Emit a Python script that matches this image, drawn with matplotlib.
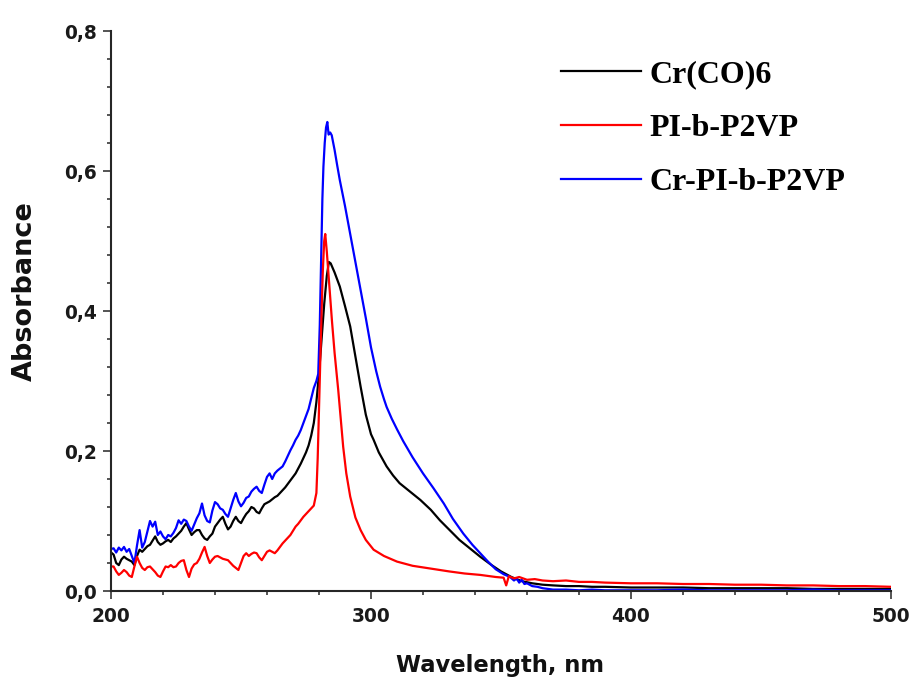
import matplotlib
matplotlib.use("Agg")
import matplotlib.pyplot as plt
from matplotlib.ticker import MultipleLocator, FixedLocator, FixedFormatter

# --- UV-Vis absorbance spectra ------------------------------------------
# noisy short-wavelength scan region, 1 nm steps
scan_nm = list(range(200, 279))

cr_co6_scan = [
    0.055, 0.052, 0.040, 0.037, 0.045, 0.049, 0.046, 0.044, 0.042, 0.037,
    0.050, 0.059, 0.056, 0.060, 0.064, 0.066, 0.072, 0.078, 0.070, 0.066,
    0.068, 0.071, 0.073, 0.070, 0.075, 0.078, 0.082, 0.086, 0.092, 0.097,
    0.088, 0.080, 0.084, 0.087, 0.087, 0.080, 0.075, 0.073, 0.078, 0.082,
    0.092, 0.097, 0.102, 0.106, 0.096, 0.088, 0.092, 0.100, 0.106, 0.100,
    0.097, 0.104, 0.110, 0.114, 0.120, 0.118, 0.113, 0.111, 0.118, 0.124,
    0.126, 0.128, 0.131, 0.134, 0.136, 0.140, 0.144, 0.148, 0.153, 0.158,
    0.163, 0.168, 0.175, 0.182, 0.190, 0.198, 0.208, 0.222, 0.240,
]
pib_scan = [
    0.035, 0.035, 0.028, 0.023, 0.026, 0.030, 0.027, 0.022, 0.020, 0.035,
    0.049, 0.040, 0.033, 0.030, 0.034, 0.035, 0.031, 0.027, 0.022, 0.020,
    0.028, 0.035, 0.034, 0.037, 0.034, 0.035, 0.040, 0.043, 0.044, 0.030,
    0.020, 0.032, 0.038, 0.040, 0.046, 0.055, 0.063, 0.050, 0.040, 0.045,
    0.049, 0.050, 0.048, 0.046, 0.045, 0.044, 0.040, 0.036, 0.033, 0.030,
    0.040, 0.050, 0.054, 0.050, 0.053, 0.055, 0.054, 0.048, 0.044, 0.050,
    0.056, 0.058, 0.056, 0.054, 0.058, 0.063, 0.068, 0.072, 0.076, 0.080,
    0.086, 0.092, 0.096, 0.101, 0.106, 0.110, 0.114, 0.118, 0.122,
]
cr_pib_scan = [
    0.060, 0.061, 0.055, 0.062, 0.058, 0.063, 0.056, 0.060, 0.050, 0.040,
    0.065, 0.087, 0.062, 0.070, 0.085, 0.100, 0.092, 0.099, 0.080, 0.085,
    0.078, 0.074, 0.080, 0.078, 0.083, 0.090, 0.101, 0.096, 0.102, 0.100,
    0.092, 0.086, 0.095, 0.104, 0.111, 0.125, 0.108, 0.100, 0.098, 0.115,
    0.127, 0.124, 0.118, 0.116, 0.110, 0.106, 0.118, 0.130, 0.140, 0.128,
    0.121, 0.126, 0.133, 0.135, 0.142, 0.146, 0.149, 0.143, 0.140, 0.152,
    0.163, 0.168, 0.160, 0.168, 0.172, 0.175, 0.178, 0.185, 0.193, 0.201,
    0.208, 0.216, 0.222, 0.230, 0.240, 0.250, 0.260, 0.275, 0.290,
]

# band and long-wavelength tail
cr_co6_nm = [
    279, 280, 281, 282, 283, 283.8, 284.5, 286, 288, 290,
    292, 294, 296, 298, 300, 301, 303, 306, 308.5, 311,
    315, 319, 323, 326.5, 330, 334, 338, 342, 346, 350,
    354, 358, 362, 366, 370, 375, 380, 385, 390, 400,
    410, 420, 430, 440, 450, 460, 470, 480, 490, 500,
]
cr_co6_abs = [
    0.270, 0.310, 0.360, 0.410, 0.450, 0.470, 0.468, 0.455, 0.435, 0.407,
    0.378, 0.335, 0.292, 0.252, 0.224, 0.216, 0.198, 0.178, 0.165, 0.154,
    0.142, 0.130, 0.116, 0.101, 0.088, 0.073, 0.061, 0.049, 0.038, 0.028,
    0.020, 0.014, 0.011, 0.009, 0.008, 0.007, 0.007, 0.006, 0.006, 0.005,
    0.005, 0.005, 0.004, 0.004, 0.004, 0.004, 0.003, 0.003, 0.003, 0.003,
]

pib_nm = [
    279, 279.5, 280, 280.5, 281, 281.5, 282, 282.4, 283, 284,
    285, 286, 287.4, 288.5, 289.3, 290.5, 292, 294, 296, 298,
    301, 305, 310, 316, 323, 330, 336, 342, 348, 351,
    352, 353, 355, 357, 360, 363, 366, 370, 375, 380,
    385, 390, 400, 410, 420, 430, 440, 450, 460, 470,
    480, 490, 500,
]
pib_abs = [
    0.140, 0.190, 0.260, 0.330, 0.400, 0.460, 0.500, 0.510, 0.485, 0.435,
    0.385, 0.340, 0.287, 0.240, 0.206, 0.168, 0.135, 0.105, 0.087, 0.073,
    0.059, 0.050, 0.042, 0.036, 0.032, 0.028, 0.025, 0.023, 0.020, 0.019,
    0.008, 0.021, 0.018, 0.020, 0.016, 0.017, 0.015, 0.014, 0.015, 0.013,
    0.013, 0.012, 0.011, 0.011, 0.010, 0.010, 0.009, 0.009, 0.008, 0.008,
    0.007, 0.007, 0.006,
]

cr_pib_nm = [
    279, 279.7, 280.3, 280.8, 281.3, 281.7, 282.2, 282.7, 283.2, 283.7,
    284.3, 284.9, 286, 287, 288, 290, 292, 294, 296, 298,
    300, 302, 303.5, 305, 306, 308, 310, 312.4, 316, 320,
    324, 328, 331.5, 335.5, 339, 342, 345, 348, 351, 353.5,
    355, 356, 357, 358, 359, 360, 362, 364, 366, 368,
    370, 375, 380, 385, 390, 400, 410, 420, 430, 440,
    450, 460, 470, 480, 490, 500,
]
cr_pib_abs = [
    0.300, 0.310, 0.380, 0.470, 0.560, 0.606, 0.640, 0.662, 0.670, 0.652,
    0.655, 0.651, 0.630, 0.608, 0.587, 0.550, 0.510, 0.470, 0.430, 0.390,
    0.348, 0.314, 0.292, 0.274, 0.263, 0.246, 0.231, 0.214, 0.191, 0.168,
    0.147, 0.125, 0.103, 0.082, 0.066, 0.054, 0.042, 0.031, 0.024, 0.020,
    0.015, 0.018, 0.012, 0.016, 0.010, 0.011, 0.007, 0.006, 0.004, 0.003,
    0.002, 0.002, 0.001, 0.002, 0.001, 0.001, 0.001, 0.002, 0.001, 0.001,
    0.001, 0.001, 0.002, 0.001, 0.001, 0.001,
]

series_labels = ["Cr(CO)6", "PI-b-P2VP", "Cr-PI-b-P2VP"]
series_colors = ["#000000", "#ff0000", "#0000ff"]

x_ticks = [200, 300, 400, 500]
y_ticks = [0.0, 0.2, 0.4, 0.6, 0.8]
y_tick_labels = ["0,0", "0,2", "0,4", "0,6", "0,8"]

# --- figure ---------------------------------------------------------------
W, H = 912, 689
fig = plt.figure(figsize=(W / 100, H / 100), dpi=100)
ax = fig.add_axes([111 / W, 1 - 591 / H, 780 / W, 560 / H])

axis_col = "#262626"
tick_font = {"family": "DejaVu Sans", "weight": "bold", "size": 13.4}

line_black, = ax.plot(scan_nm + cr_co6_nm, cr_co6_scan + cr_co6_abs,
                      color=series_colors[0], lw=1.6, label=series_labels[0])
line_blue, = ax.plot(scan_nm + cr_pib_nm, cr_pib_scan + cr_pib_abs,
                     color=series_colors[2], lw=1.6, label=series_labels[2])
line_red, = ax.plot(scan_nm + pib_nm, pib_scan + pib_abs,
                    color=series_colors[1], lw=1.6, label=series_labels[1])

ax.set_xlim(200, 500)
ax.set_ylim(0.0, 0.8)

ax.xaxis.set_major_locator(FixedLocator(x_ticks))
ax.xaxis.set_minor_locator(MultipleLocator(20))
ax.yaxis.set_major_locator(FixedLocator(y_ticks))
ax.yaxis.set_major_formatter(FixedFormatter(y_tick_labels))
ax.yaxis.set_minor_locator(MultipleLocator(0.04))

for side in ("top", "right"):
    ax.spines[side].set_visible(False)
for side in ("left", "bottom"):
    ax.spines[side].set_linewidth(1.5)
    ax.spines[side].set_color(axis_col)

ax.tick_params(which="major", direction="out", length=5.5, width=1.1,
               color=axis_col, labelcolor="#1a1a1a")
ax.tick_params(which="minor", direction="out", length=3, width=1.1,
               color=axis_col)
ax.tick_params(axis="y", which="major", pad=4.5)
ax.tick_params(axis="x", which="major", pad=6)
for lab in ax.get_xticklabels() + ax.get_yticklabels():
    lab.set_fontproperties(tick_font)

ax.set_xlabel("Wavelength, nm", family="DejaVu Sans", weight="bold",
              size=16.3, color="#111111")
ax.set_ylabel("Absorbance", family="DejaVu Sans", weight="bold",
              size=19.5, color="#111111")
ax.xaxis.set_label_coords(0.4987, -0.112)
ax.yaxis.set_label_coords(-0.094, 0.536)

leg = ax.legend(handles=[line_black, line_red, line_blue],
                labels=series_labels,
                loc="upper left",
                bbox_to_anchor=(561 / W, 1 - 60 / H),
                bbox_transform=fig.transFigure,
                frameon=False, borderpad=0, borderaxespad=0,
                handlelength=2.5, handletextpad=0.26, labelspacing=0.77,
                prop={"family": "Liberation Serif", "weight": "bold",
                      "size": 23})

fig.savefig("out.png", dpi=100)
